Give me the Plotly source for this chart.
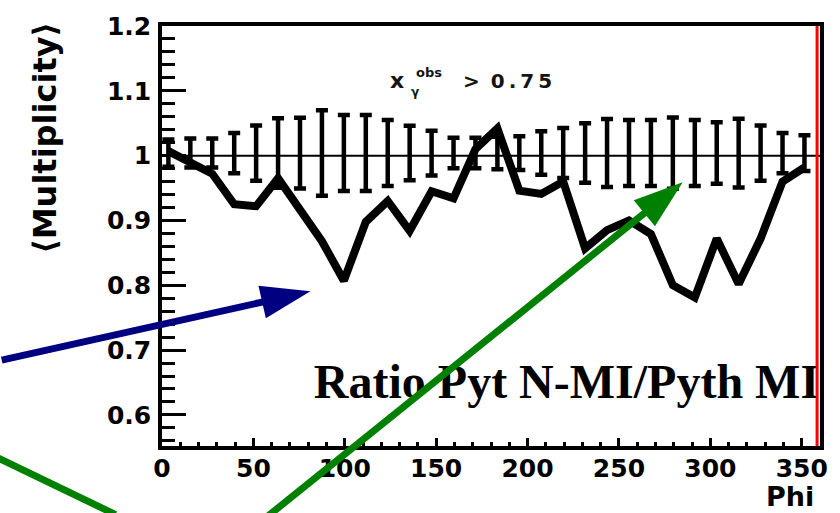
import math
import plotly.graph_objects as go

# ---- data -----------------------------------------------------------------
# phi bin centres (degrees)
phi = [3.5, 15.5, 27.5, 39.5, 51.5, 63.5, 75.5, 87.5, 99.5, 111.5,
       123.5, 135.5, 147.5, 159.5, 171.5, 183.5, 195.5, 207.5, 219.5, 231.5,
       243.5, 255.5, 267.5, 279.5, 291.5, 303.5, 315.5, 327.5, 339.5, 351.5]

# <Multiplicity> ratio, Pythia without MI over Pythia with MI
ratio_nmi_mi = [1.007, 0.988, 0.972, 0.925, 0.922, 0.965, 0.915, 0.868, 0.807, 0.898,
                0.930, 0.884, 0.945, 0.934, 1.010, 1.042, 0.946, 0.941, 0.960, 0.857,
                0.885, 0.900, 0.879, 0.800, 0.781, 0.872, 0.802, 0.872, 0.960, 0.982]

# reference points (unit ratio) and their statistical errors
ref_ratio = [1.004] * 30
ref_err = [0.021, 0.0225, 0.0225, 0.031, 0.0426, 0.0535, 0.0546, 0.066, 0.0585, 0.0585,
           0.051, 0.042, 0.0345, 0.0235, 0.0235, 0.025, 0.026, 0.0336, 0.0385, 0.046,
           0.0525, 0.051, 0.051, 0.055, 0.051, 0.0475, 0.053, 0.0426, 0.031, 0.0276]

x_ticks = [0, 50, 100, 150, 200, 250, 300, 350]
x_ticktext = ["0", "50", "100", "150", "200", "250", "300", "350"]
y_ticks = [0.6, 0.7, 0.8, 0.9, 1.0, 1.1, 1.2]
y_ticktext = ["0.6", "0.7", "0.8", "0.9", "1", "1.1", "1.2"]

# ---- geometry -------------------------------------------------------------
W, H = 840, 513
ML, MR, MT, MB = 162, 13, 17, 67
PW, PH = W - ML - MR, H - MT - MB
X_RANGE = [0, 360]
Y_RANGE = [0.552, 1.2]


def data_to_plotpx(p, m):
    """data -> pixel offsets from the lower-left corner of the plot area"""
    return ((p - X_RANGE[0]) / (X_RANGE[1] - X_RANGE[0]) * PW,
            (m - Y_RANGE[0]) / (Y_RANGE[1] - Y_RANGE[0]) * PH)


def px_to_paper(px, py):
    """absolute page pixel (y down) -> paper coordinates"""
    return (px - ML) / PW, (H - MB - py) / PH


def arrow(tail, tip, color, width=7, head_len=50, head_half=17):
    tx, ty = data_to_plotpx(*tail)
    hx, hy = data_to_plotpx(*tip)
    dx, dy = hx - tx, hy - ty
    L = math.hypot(dx, dy)
    ux, uy = dx / L, dy / L
    bx, by = hx - head_len * ux, hy - head_len * uy
    nx, ny = -uy, ux
    c1 = (bx + head_half * nx, by + head_half * ny)
    c2 = (bx - head_half * nx, by - head_half * ny)
    sx, sy = bx + 6 * ux, by + 6 * uy
    shaft = dict(type="line", xref="paper", yref="paper",
                 x0=tx / PW, y0=ty / PH, x1=sx / PW, y1=sy / PH,
                 line=dict(color=color, width=width), layer="above")
    path = "M {:.5f},{:.5f} L {:.5f},{:.5f} L {:.5f},{:.5f} Z".format(
        hx / PW, hy / PH, c1[0] / PW, c1[1] / PH, c2[0] / PW, c2[1] / PH)
    head = dict(type="path", xref="paper", yref="paper", path=path,
                fillcolor=color, line=dict(color=color, width=0), layer="above")
    return [shaft, head]


def segment(p0, p1, color, width=7):
    x0, y0 = data_to_plotpx(*p0)
    x1, y1 = data_to_plotpx(*p1)
    return dict(type="line", xref="paper", yref="paper",
                x0=x0 / PW, y0=y0 / PH, x1=x1 / PW, y1=y1 / PH,
                line=dict(color=color, width=width), layer="above")


NAVY = "rgb(0,0,128)"
GREEN = "rgb(0,128,0)"

fig = go.Figure()

# reference points with error bars
fig.add_trace(go.Scatter(
    x=phi, y=ref_ratio, mode="markers",
    marker=dict(size=1, color="black"),
    error_y=dict(type="data", array=ref_err, color="black", thickness=4.5, width=6),
    showlegend=False, hoverinfo="skip"))

# ratio curve
fig.add_trace(go.Scatter(
    x=phi, y=ratio_nmi_mi, mode="lines",
    line=dict(color="black", width=8),
    showlegend=False))

# label inside the frame (kept in the plot layer so the arrows pass over it)
fig.add_trace(go.Scatter(
    x=[359.5], y=[0.645], mode="text",
    text=["Ratio Pyt N-MI/Pyth MI"], textposition="middle left",
    textfont=dict(family="Liberation Serif", size=48, color="black", weight="bold"),
    cliponaxis=False, showlegend=False, hoverinfo="skip"))

shapes = []
# unit line
shapes.append(dict(type="line", xref="x", yref="y", x0=X_RANGE[0], x1=X_RANGE[1],
                   y0=1.0, y1=1.0, line=dict(color="black", width=2), layer="below"))
# red vertical line at the right edge of the frame
shapes.append(dict(type="line", xref="x", yref="paper", x0=358.4, x1=358.4,
                   y0=0, y1=1, line=dict(color="red", width=3), layer="above"))
# arrows
shapes += arrow((-87.7, 0.6846), (81.2, 0.7906), NAVY)
shapes += arrow((58.3, 0.4447), (284.9, 0.9588), GREEN)
shapes.append(segment((-90.4, 0.5346), (-25.4, 0.4462), GREEN))

annotations = []
# y-axis title (top aligned, ROOT style)
ax_, ay_ = px_to_paper(43, 131)
annotations.append(dict(text="⟨Multiplicity⟩", xref="paper", yref="paper",
                        x=ax_, y=ay_, xanchor="center", yanchor="middle",
                        textangle=-90, showarrow=False,
                        font=dict(family="DejaVu Sans", size=32, color="black",
                                  weight="bold")))
# x-axis title
ax_, ay_ = px_to_paper(822, 514)
annotations.append(dict(text="Phi", xref="paper", yref="paper", x=ax_, y=ay_,
                        xanchor="right", yanchor="bottom", showarrow=False,
                        borderpad=0,
                        font=dict(family="DejaVu Sans", size=27, color="black",
                                  weight="bold")))
# cut label: x_gamma^obs > 0.75
cut_font = dict(family="DejaVu Sans", color="rgb(20,20,20)", weight="bold")
for txt, (px, py), size in [("x", (399, 73), 22),
                            ("obs", (432, 65), 13),
                            ("γ", (418, 84), 12),
                            (">\u2009 0\u2009.\u20097\u20095", (511, 73), 20)]:
    ax_, ay_ = px_to_paper(px, py)
    annotations.append(dict(text=txt, xref="paper", yref="paper", x=ax_, y=ay_,
                            xanchor="center", yanchor="middle", showarrow=False,
                            font=dict(size=size, **cut_font)))

tick_font = dict(family="DejaVu Sans", size=25, color="black", weight="bold")

fig.update_layout(
    width=W, height=H,
    margin=dict(l=ML, r=MR, t=MT, b=MB, pad=0),
    paper_bgcolor="white", plot_bgcolor="white",
    showlegend=False,
    shapes=shapes, annotations=annotations,
    xaxis=dict(range=X_RANGE, showgrid=False, zeroline=False,
               showline=True, linecolor="black", linewidth=3.5, mirror=True,
               ticks="inside", ticklen=8, tickwidth=3, tickcolor="black",
               tickvals=x_ticks, ticktext=x_ticktext, tickfont=tick_font,
               ticklabelstandoff=-3,
               minor=dict(ticks="inside", ticklen=4, tickwidth=2.5,
                          tickcolor="black", dtick=10, tick0=0, showgrid=False)),
    yaxis=dict(range=Y_RANGE, showgrid=False, zeroline=False,
               showline=True, linecolor="black", linewidth=3.5, mirror=True,
               ticks="inside", ticklen=24, tickwidth=3, tickcolor="black",
               tickvals=y_ticks, ticktext=y_ticktext, tickfont=tick_font,
               ticklabelstandoff=2,
               minor=dict(ticks="inside", ticklen=13, tickwidth=3,
                          tickcolor="black", dtick=0.02, tick0=0.6, showgrid=False)),
)

fig.write_html("out.html")
